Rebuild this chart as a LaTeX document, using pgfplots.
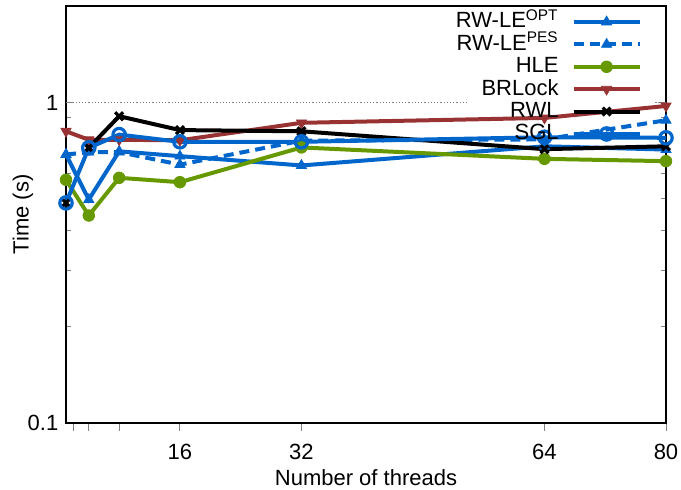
\documentclass[border=0pt]{standalone}
\usepackage{pgfplots}
\pgfplotsset{compat=1.18}
\usepackage{fontspec}
\setmainfont{Liberation Sans}
\definecolor{cblue}{RGB}{0,102,204}
\definecolor{cgreen}{RGB}{102,153,0}
\definecolor{cred}{RGB}{153,51,51}
\begin{document}
\fontsize{11}{13}\selectfont
\begin{tikzpicture}
\begin{axis}[
  scale only axis,
  width=300pt, height=208.5pt,
  xmin=1, xmax=80,
  ymode=log, ymin=0.1, ymax=2,
  xtick={2,4,8,16,32,64,80},
  xticklabels={,,,16,32,64,80},
  ytick={0.1,1}, yticklabels={0.1,1},
  /pgf/number format/assume math mode=true,
  tick label style={font=\fontsize{11}{13}\selectfont},
  label style={font=\fontsize{11}{13}\selectfont},
  xtick pos=bottom,
  major tick length=3.8pt,
  minor tick length=2.5pt,
  xtick style={yshift=-3.8pt, line width=0.5pt},
  ytick style={line width=0.5pt},
  ytick pos=both,
  tick align=inside,
  axis line style={line width=0.6pt},
  xlabel={Number of threads},
  ylabel={Time (s)},
  xlabel style={at={(axis description cs:0.5,0)}, anchor=center, yshift=-27.5pt},
  ylabel style={at={(axis description cs:0,0.5)}, anchor=center, yshift=21.5pt},
  xticklabel style={yshift=-6.5pt},
  clip=false,
  legend plot pos=right,
  legend cell align=right,
  legend style={at={(rel axis cs:0.96,0.989)}, anchor=north east, draw=none, fill=none,
    inner sep=0pt, row sep=0.2pt, column sep=6pt,
    nodes={inner sep=0.5pt, text height=8pt, text depth=2pt},
    font=\fontsize{11}{13}\selectfont},
  legend image code/.code={
    \draw[mark repeat=2,mark phase=2,#1] plot coordinates {(0pt,0pt) (16.5pt,0pt) (33pt,0pt)};
  },
]
\draw[densely dotted, gray, line width=0.6pt] (axis cs:1,1) -- (axis cs:53.9,1);
\draw[densely dotted, gray, line width=0.6pt] (axis cs:78.6,1) -- (axis cs:80,1);
\addplot[cblue, line width=2pt, mark=triangle*, mark size=2.9pt, mark options={solid, line width=0.4pt}]
  coordinates {(1,0.688) (4,0.498) (8,0.704) (16,0.68) (32,0.636) (64,0.73) (80,0.713)};
\addlegendentry{RW-LE\textsuperscript{OPT}}
\addplot[cblue, line width=2pt, dash pattern=on 5pt off 3pt, mark=triangle*, mark size=2.9pt, mark options={solid, line width=0.4pt}]
  coordinates {(1,0.688) (4,0.70) (8,0.70) (16,0.64) (32,0.76) (64,0.767) (80,0.88)};
\addlegendentry{RW-LE\textsuperscript{PES}}
\addplot[cgreen, line width=2pt, mark=*, mark size=2.9pt, mark options={line width=0.4pt}]
  coordinates {(1,0.574) (4,0.444) (8,0.582) (16,0.564) (32,0.724) (64,0.667) (80,0.656)};
\addlegendentry{HLE}
\addplot[cred, line width=2pt, mark=triangle*, mark size=2.9pt, mark options={rotate=180, line width=0.4pt}]
  coordinates {(1,0.813) (4,0.765) (8,0.765) (16,0.762) (32,0.864) (64,0.895) (80,0.975)};
\addlegendentry{BRLock}
\addplot[black, line width=0.6pt, mark=x, mark size=2.8pt, mark options={line width=1.6pt}, forget plot]
  coordinates {(1,0.486) (4,0.722)};
\addplot[black, line width=2pt, mark=x, mark size=2.8pt, mark options={line width=1.6pt}]
  coordinates {(4,0.722) (8,0.906) (16,0.82) (32,0.813) (64,0.715) (80,0.73)};
\addlegendentry{RWL}
\addplot[cblue, line width=2pt, mark=o, mark size=3.1pt, mark options={line width=1.6pt}]
  coordinates {(1,0.486) (4,0.722) (8,0.794) (16,0.754) (32,0.754) (64,0.779) (80,0.776)};
\addlegendentry{SGL}
\coordinate (SW) at (rel axis cs:0,0);
\coordinate (NE) at (rel axis cs:1,1);
\end{axis}
\pgfresetboundingbox
\path (SW) ++(-33pt,-33.5pt) coordinate (BBSW);
\path (NE) ++(7.5pt,3pt) coordinate (BBNE);
\path[use as bounding box] (BBSW) rectangle (BBNE);
\end{tikzpicture}
\end{document}
